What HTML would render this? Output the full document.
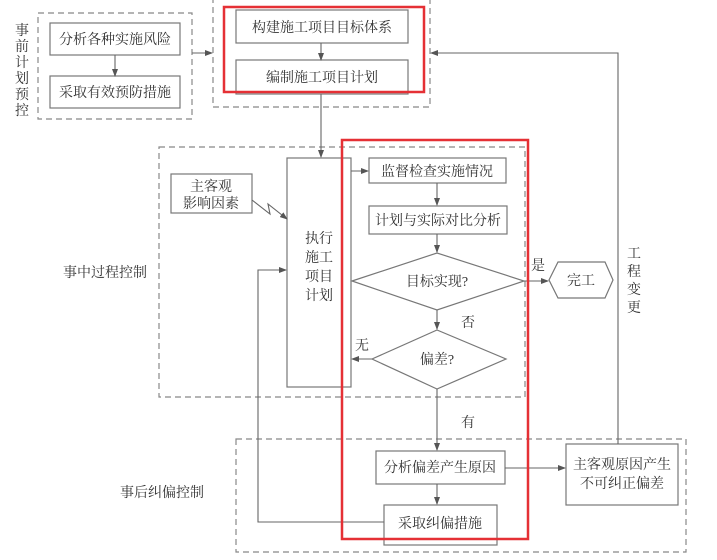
<!DOCTYPE html>
<html><head><meta charset="utf-8"><style>
html,body{margin:0;padding:0;background:#fff}
svg{display:block}
text{font-family:"Liberation Serif","Noto Serif CJK SC","Noto Sans CJK SC",serif;font-size:14px;fill:#333}
</style></head><body>
<svg width="717" height="560" viewBox="0 0 717 560" xmlns="http://www.w3.org/2000/svg">
<defs><marker id="a" markerWidth="8" markerHeight="6" refX="7" refY="3" orient="auto" markerUnits="userSpaceOnUse"><path d="M0,0 L8,3 L0,6z" fill="#555"/></marker></defs>
<g fill="none" stroke="#888" stroke-width="1.2" stroke-dasharray="6,4">
<rect x="38" y="13" width="154" height="106"/>
<rect x="213" y="-5" width="217" height="112"/>
<rect x="159" y="147" width="366" height="250"/>
<rect x="236" y="439" width="450" height="113"/>
</g>
<g fill="#fff" stroke="#777" stroke-width="1.2">
<rect x="50" y="23" width="130" height="32"/>
<rect x="50" y="76" width="130" height="32"/>
<rect x="236" y="10" width="172" height="33"/>
<rect x="236" y="60" width="172" height="34"/>
<rect x="171" y="174" width="81" height="39"/>
<rect x="287" y="158" width="64" height="229"/>
<rect x="369" y="158" width="137" height="25"/>
<rect x="369" y="206" width="138" height="28"/>
<polygon points="352,281 437,253 524,281 437,310"/>
<polygon points="372,359 437,330 506,359 437,389"/>
<polygon points="549,280 558,262 605,262 613,280 605,298 558,298"/>
<rect x="376" y="451" width="129" height="33"/>
<rect x="384" y="505" width="113" height="40"/>
<rect x="566" y="444" width="112" height="61"/>
</g>
<g fill="none" stroke="#666" stroke-width="1.1">
<line x1="115" y1="55" x2="115" y2="76" marker-end="url(#a)"/>
<line x1="192" y1="53" x2="212" y2="53" marker-end="url(#a)"/>
<line x1="321" y1="43" x2="321" y2="60" marker-end="url(#a)"/>
<line x1="321" y1="94" x2="321" y2="157" marker-end="url(#a)"/>
<polyline points="618,444 618,53 431,53" marker-end="url(#a)"/>
<polyline points="252,200 270,214 268,204 287,219" marker-end="url(#a)"/>
<line x1="351" y1="171" x2="368" y2="171" marker-end="url(#a)"/>
<line x1="437" y1="183" x2="437" y2="205" marker-end="url(#a)"/>
<line x1="437" y1="234" x2="437" y2="252" marker-end="url(#a)"/>
<line x1="524" y1="281" x2="548" y2="281" marker-end="url(#a)"/>
<line x1="437" y1="310" x2="437" y2="329" marker-end="url(#a)"/>
<line x1="372" y1="359" x2="352" y2="359" marker-end="url(#a)"/>
<line x1="437" y1="389" x2="437" y2="450" marker-end="url(#a)"/>
<line x1="437" y1="484" x2="437" y2="504" marker-end="url(#a)"/>
<line x1="505" y1="468" x2="565" y2="468" marker-end="url(#a)"/>
<polyline points="384,522 258,522 258,270 286,270" marker-end="url(#a)"/>
</g>
<g fill="none" stroke="#e53035" stroke-width="2.5">
<rect x="224" y="7" width="200" height="85"/>
<rect x="342" y="140" width="186" height="399"/>
</g>
<g text-anchor="middle">
<text x="115" y="44">分析各种实施风险</text>
<text x="115" y="97">采取有效预防措施</text>
<text x="322" y="32">构建施工项目目标体系</text>
<text x="322" y="82">编制施工项目计划</text>
<text x="211" y="191">主客观</text>
<text x="211" y="208">影响因素</text>
<text x="319" y="243">执行</text>
<text x="319" y="262">施工</text>
<text x="319" y="281">项目</text>
<text x="319" y="300">计划</text>
<text x="437" y="176">监督检查实施情况</text>
<text x="438" y="225">计划与实际对比分析</text>
<text x="437" y="286">目标实现?</text>
<text x="437" y="364">偏差?</text>
<text x="581" y="285">完工</text>
<text x="440" y="472">分析偏差产生原因</text>
<text x="440" y="528">采取纠偏措施</text>
<text x="622" y="469">主客观原因产生</text>
<text x="622" y="488">不可纠正偏差</text>
<text x="538" y="270">是</text>
<text x="468" y="327">否</text>
<text x="362" y="350">无</text>
<text x="468" y="427">有</text>
<text x="105" y="277">事中过程控制</text>
<text x="162" y="497">事后纠偏控制</text>
<text x="22" y="35">事</text><text x="22" y="51">前</text><text x="22" y="67">计</text><text x="22" y="83">划</text><text x="22" y="99">预</text><text x="22" y="115">控</text>
<text x="634" y="258">工</text><text x="634" y="276">程</text><text x="634" y="294">变</text><text x="634" y="312">更</text>
</g>
</svg>
</body></html>
